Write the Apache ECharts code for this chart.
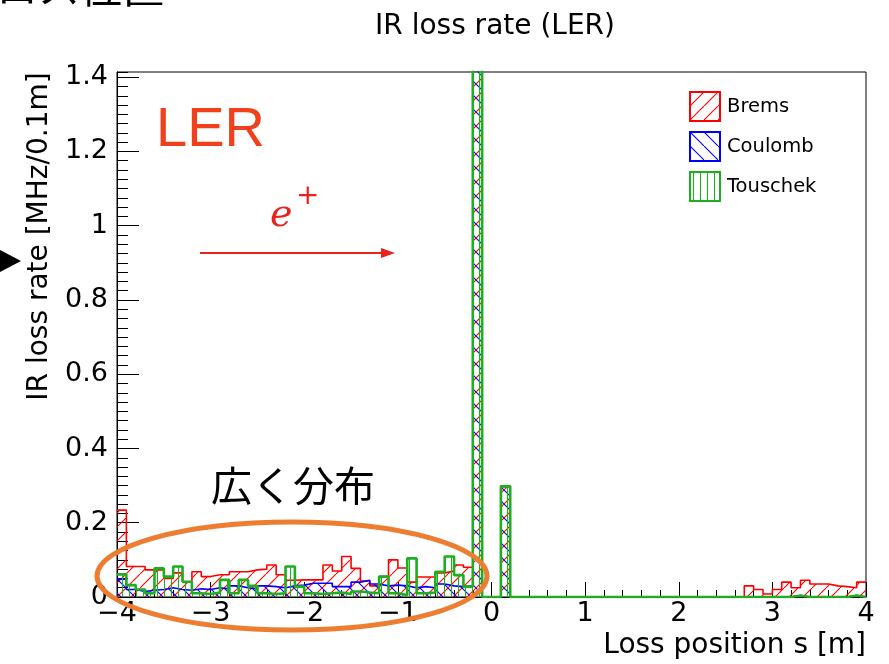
<!DOCTYPE html>
<html><head><meta charset="utf-8">
<script src="https://cdn.jsdelivr.net/npm/echarts@6/dist/echarts.min.js"></script>
<style>html,body{margin:0;padding:0;background:#fff}#c{width:889px;height:664px}</style>
</head><body><div id="c"></div>
<script>
// ---- data (80 bins of 0.1 m from -4 m to 4 m) ----
const binLow = -4, binWidth = 0.1, nBins = 80;
const seriesNames = ['Brems', 'Coulomb', 'Touschek'];
const brems = [
  0.234, 0.082, 0.082, 0.073, 0.073, 0.050, 0.065, 0.041, 0.068, 0.055,
  0.060, 0.060, 0.068, 0.068, 0.073, 0.075, 0.086, 0.060, 0.045, 0.046,
  0.046, 0.046, 0.086, 0.070, 0.109, 0.077, 0.043, 0.030, 0.055, 0.100,
  0.078, 0.040, 0.054, 0.054, 0.065, 0.070, 0.086, 0.080, 1.430, 0,
  0, 0.298, 0, 0, 0, 0, 0, 0, 0, 0,
  0, 0, 0, 0, 0, 0, 0, 0, 0, 0,
  0, 0, 0, 0, 0, 0, 0, 0.030, 0.020, 0.008,
  0.020, 0.040, 0.025, 0.045, 0.035, 0.035, 0.030, 0.028, 0.025, 0.040
];
const coulomb = [
  0.048, 0.020, 0.015, 0.018, 0.020, 0.025, 0.020, 0.018, 0.022, 0.020,
  0.025, 0.022, 0.030, 0.025, 0.022, 0.030, 0.028, 0.025, 0.030, 0.032,
  0.037, 0.037, 0.037, 0.028, 0.028, 0.040, 0.045, 0.035, 0.030, 0.032,
  0.030, 0.025, 0.028, 0.025, 0.035, 0.030, 0.028, 0.030, 1.430, 0,
  0, 0.298, 0, 0, 0, 0, 0, 0, 0, 0,
  0, 0, 0, 0, 0, 0, 0, 0, 0, 0,
  0, 0, 0, 0, 0, 0, 0, 0, 0, 0,
  0, 0, 0.004, 0, 0, 0, 0, 0, 0.004, 0
];
const touschek = [
  0.061, 0.032, 0.020, 0.010, 0.077, 0.055, 0.082, 0.041, 0.010, 0.008,
  0.012, 0.046, 0.010, 0.046, 0.030, 0.010, 0.008, 0.010, 0.082, 0.028,
  0.010, 0.008, 0.010, 0.012, 0.008, 0.015, 0.012, 0.010, 0.055, 0.010,
  0.005, 0.104, 0.010, 0.012, 0.068, 0.109, 0.059, 0.028, 1.430, 0,
  0, 0.298, 0, 0, 0, 0, 0, 0, 0, 0,
  0, 0, 0, 0, 0, 0, 0, 0, 0, 0,
  0, 0, 0, 0, 0, 0, 0, 0, 0, 0,
  0, 0, 0.004, 0, 0, 0, 0, 0, 0.004, 0
];
const xTickLabels = [-4, -3, -2, -1, 0, 1, 2, 3, 4];
const yTickLabels = [0, 0.2, 0.4, 0.6, 0.8, 1, 1.2, 1.4];

// ---- helpers ----
function histData(vals) {
  const d = vals.map((v, i) => [Math.round((binLow + i * binWidth) * 10) / 10, v]);
  d.push([Math.round((binLow + nBins * binWidth) * 10) / 10, vals[nBins - 1]]);
  return d;
}
function makePattern(color, type) {
  const c = document.createElement('canvas');
  const s = type === 'v' ? 7 : 14;
  c.width = s; c.height = s;
  const g = c.getContext('2d');
  g.strokeStyle = color; g.lineWidth = 1.1;
  g.beginPath();
  if (type === 'f') {
    g.moveTo(-1, s + 1); g.lineTo(s + 1, -1);
  } else if (type === 'b') {
    g.moveTo(-1, -1); g.lineTo(s + 1, s + 1);
  } else {
    g.moveTo(3.5, 0); g.lineTo(3.5, s);
  }
  g.stroke();
  return { image: c, repeat: 'repeat' };
}
const RED = '#ff0000', BLUE = '#0000ff', GREEN = '#1fae1f';
const patR = makePattern(RED, 'f');
const patB = makePattern(BLUE, 'b');
const patG = makePattern(GREEN, 'v');
const FONT = 'DejaVu Sans';

function histSeries(name, vals, color, pat, width, z) {
  return {
    name, type: 'line', step: 'end', data: histData(vals),
    symbol: 'none', z,
    lineStyle: { color, width },
    itemStyle: { color },
    areaStyle: { color: pat, opacity: 1, origin: 'start' },
    clip: true, animation: false
  };
}

const chart = echarts.init(document.getElementById('c'), null, { renderer: 'canvas' });
chart.setOption({
  animation: false,
  backgroundColor: '#fff',
  title: {
    text: 'IR loss rate (LER)', left: 490, top: 8, textAlign: 'center',
    textStyle: { fontFamily: FONT, fontSize: 28, fontWeight: 'normal', color: '#000' }
  },
  grid: { left: 117, right: 23, top: 72, bottom: 67, show: true, borderColor: '#000', borderWidth: 1, containLabel: false, outerBoundsMode: 'none' },
  legend: {
    orient: 'vertical', left: 684, top: 86, itemWidth: 30, itemHeight: 29, itemGap: 9,
    textStyle: { fontFamily: FONT, fontSize: 19.5, color: '#000', padding: [0, 0, 0, 2] },
    data: [
      { name: 'Brems', icon: 'rect', itemStyle: { color: patR, borderColor: RED, borderWidth: 2 } },
      { name: 'Coulomb', icon: 'rect', itemStyle: { color: patB, borderColor: BLUE, borderWidth: 2 } },
      { name: 'Touschek', icon: 'rect', itemStyle: { color: patG, borderColor: GREEN, borderWidth: 2 } }
    ]
  },
  xAxis: {
    type: 'value', min: xTickLabels[0], max: xTickLabels[xTickLabels.length - 1], interval: 1,
    axisLine: { show: true, onZero: false, lineStyle: { color: '#000', width: 1 } },
    axisTick: { show: true, inside: true, length: 15, lineStyle: { color: '#000', width: 1 } },
    minorTick: { show: true, splitNumber: 5, length: 7, lineStyle: { color: '#000', width: 1 } },
    splitLine: { show: false },
    axisLabel: {
      color: '#000', fontFamily: FONT, fontSize: 27, margin: 3,
      formatter: v => (v < 0 ? '\u2212' + (-v) : String(v))
    },
    name: 'Loss position s [m]', nameLocation: 'end', nameGap: 0,
    nameTextStyle: { fontFamily: FONT, fontSize: 28, color: '#000', align: 'right', verticalAlign: 'top', padding: [35, 0, 0, 0] }
  },
  yAxis: [
    {
      type: 'value', min: 0, max: 1.414, interval: 0.2,
      axisLine: { show: true, onZero: false, lineStyle: { color: '#000', width: 1 } },
      axisTick: { show: true, inside: true, length: 22, lineStyle: { color: '#000', width: 1 } },
      splitLine: { show: false },
      axisLabel: {
        color: '#000', fontFamily: FONT, fontSize: 27, margin: 9, showMaxLabel: false,
        formatter: v => (yTickLabels.some(t => Math.abs(t - v) < 1e-6) ? String(Math.round(v * 10) / 10) : '')
      },
      name: 'IR loss rate [MHz/0.1m]', nameLocation: 'middle', nameRotate: 90, nameGap: 62,
      nameTextStyle: { fontFamily: FONT, fontSize: 28, color: '#000', padding: [0, 0, 0, 196] }
    },
    {
      type: 'value', min: 0, max: 1.414, interval: 0.025, position: 'left',
      axisLine: { show: false, onZero: false },
      axisTick: { show: true, inside: true, length: 11, lineStyle: { color: '#000', width: 1 } },
      axisLabel: { show: false },
      splitLine: { show: false }
    }
  ],
  series: [
    histSeries(seriesNames[0], brems, RED, patR, 1.6, 3),
    histSeries(seriesNames[1], coulomb, BLUE, patB, 1.6, 4),
    histSeries(seriesNames[2], touschek, GREEN, patG, 2.6, 5)
  ],
  graphic: [
    { type: 'text', left: -4, top: -34, z: 100,
      style: { text: 'ロス位置', fontFamily: 'Noto Sans CJK JP', fontSize: 42, fill: '#000' } },
    { type: 'polygon', z: 100, shape: { points: [[0, 250], [21, 261], [0, 272]] }, style: { fill: '#000' } },
    { type: 'text', x: 156, y: 131, z: 100,
      style: { text: 'LER', fontFamily: 'Liberation Sans', fontSize: 56, fill: '#f0401c', verticalAlign: 'middle' } },
    { type: 'text', x: 270, y: 216, z: 100,
      style: { text: 'e', fontFamily: 'DejaVu Serif', fontStyle: 'italic', fontSize: 38, fill: '#e8221c', verticalAlign: 'middle' } },
    { type: 'text', x: 296, y: 197, z: 100,
      style: { text: '+', fontFamily: 'DejaVu Serif', fontSize: 28, fill: '#e8221c', verticalAlign: 'middle' } },
    { type: 'line', z: 100, shape: { x1: 200, y1: 253, x2: 384, y2: 253 }, style: { stroke: '#e8221c', lineWidth: 2 } },
    { type: 'polygon', z: 100, shape: { points: [[381, 248], [395, 253], [381, 258]] }, style: { fill: '#e8221c' } },
    { type: 'text', x: 211, y: 485, z: 100,
      style: { text: '広く分布', fontFamily: 'Noto Sans CJK JP', fontSize: 41, fill: '#000', verticalAlign: 'middle' } },
    { type: 'ellipse', z: 100, shape: { cx: 292, cy: 576, rx: 195, ry: 54 },
      style: { fill: 'none', stroke: '#ed7d31', lineWidth: 5 } }
  ]
});
</script>
</body></html>
